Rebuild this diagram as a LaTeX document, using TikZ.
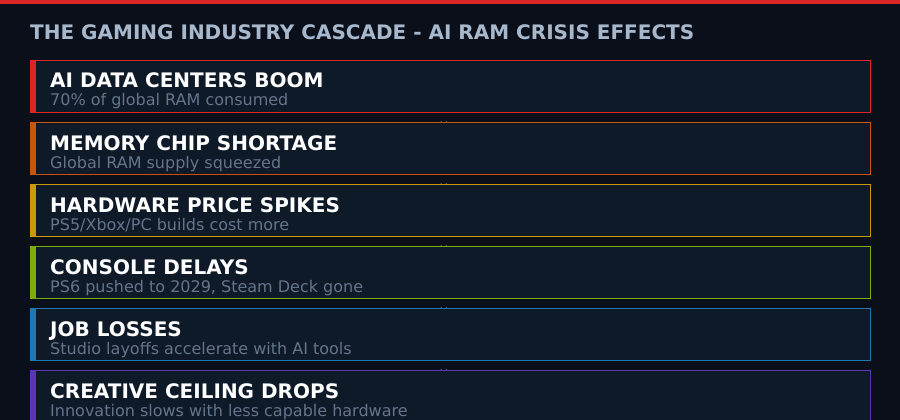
\documentclass[tikz,border=0pt]{standalone}
\usepackage{fontspec}
\setmainfont{DejaVu Sans}
\usepackage{xcolor}
\definecolor{pagebg}{HTML}{0A0F1A}
\definecolor{boxbg}{HTML}{0F1A28}
\definecolor{titlegray}{HTML}{A8B8CC}
\definecolor{subgray}{HTML}{64748B}
\definecolor{chevgray}{HTML}{4A5568}
\definecolor{cred}{HTML}{DC2626}
\definecolor{corange}{HTML}{C8560A}
\definecolor{cyellow}{HTML}{CA9A04}
\definecolor{clime}{HTML}{7CAD0A}
\definecolor{cblue}{HTML}{1F78B4}
\definecolor{cpurple}{HTML}{5B34B8}

\begin{document}
\begin{tikzpicture}[x=1pt,y=-1pt]
        \tikzset{stagebox/.style={draw,fill=boxbg,line width=1pt,minimum width=840pt,
                minimum height=52pt,inner sep=0pt,anchor=north west},
            accent/.style={fill,minimum width=6pt,minimum height=52pt,inner sep=0pt,anchor=north west},
            head/.style={anchor=base west,inner sep=0pt,text=white,font=\bfseries\fontsize{20}{22}\selectfont},
            sub/.style={anchor=base west,inner sep=0pt,text=subgray,font=\fontsize{16}{18}\selectfont},
            chev/.style={inner sep=0pt,text=chevgray,font=\fontsize{13}{14}\selectfont}}
        % page
        \fill[pagebg] (0,0) rectangle (900,420);
        \fill[cred] (0,0) rectangle (900,4);
        \useasboundingbox (0,0) rectangle (900,420);
        \node[anchor=base west,inner sep=0pt,text=titlegray,font=\bfseries\fontsize{20}{22}\selectfont]
            (title) at (30,39.5) {THE GAMING INDUSTRY CASCADE - AI RAM CRISIS EFFECTS};
        % stage 1
        \node[stagebox,draw=cred] (s1) at (30,60) {};
        \node[accent,fill=cred] (a1) at (s1.north west) {};
        \node[head] (h1) at (50,88) {AI DATA CENTERS BOOM};
        \node[sub] (t1) at (50,106) {70\% of global RAM consumed};
        \node[chev] (v1) at (444,125) {v};
        % stage 2
        \node[stagebox,draw=corange] (s2) at (30,122) {};
        \node[accent,fill=corange] (a2) at (s2.north west) {};
        \node[head] (h2) at (50,150) {MEMORY CHIP SHORTAGE};
        \node[sub] (t2) at (50,168) {Global RAM supply squeezed};
        \node[chev] (v2) at (444,187) {v};
        % stage 3
        \node[stagebox,draw=cyellow] (s3) at (30,184) {};
        \node[accent,fill=cyellow] (a3) at (s3.north west) {};
        \node[head] (h3) at (50,212) {HARDWARE PRICE SPIKES};
        \node[sub] (t3) at (50,230) {PS5/Xbox/PC builds cost more};
        \node[chev] (v3) at (444,249) {v};
        % stage 4
        \node[stagebox,draw=clime] (s4) at (30,246) {};
        \node[accent,fill=clime] (a4) at (s4.north west) {};
        \node[head] (h4) at (50,274) {CONSOLE DELAYS};
        \node[sub] (t4) at (50,292) {PS6 pushed to 2029, Steam Deck gone};
        \node[chev] (v4) at (444,311) {v};
        % stage 5
        \node[stagebox,draw=cblue] (s5) at (30,308) {};
        \node[accent,fill=cblue] (a5) at (s5.north west) {};
        \node[head] (h5) at (50,336) {JOB LOSSES};
        \node[sub] (t5) at (50,354) {Studio layoffs accelerate with AI tools};
        \node[chev] (v5) at (444,373) {v};
        % stage 6
        \node[stagebox,draw=cpurple] (s6) at (30,370) {};
        \node[accent,fill=cpurple] (a6) at (s6.north west) {};
        \node[head] (h6) at (50,398) {CREATIVE CEILING DROPS};
        \node[sub] (t6) at (50,416) {Innovation slows with less capable hardware};
    \end{tikzpicture}
\end{document}
